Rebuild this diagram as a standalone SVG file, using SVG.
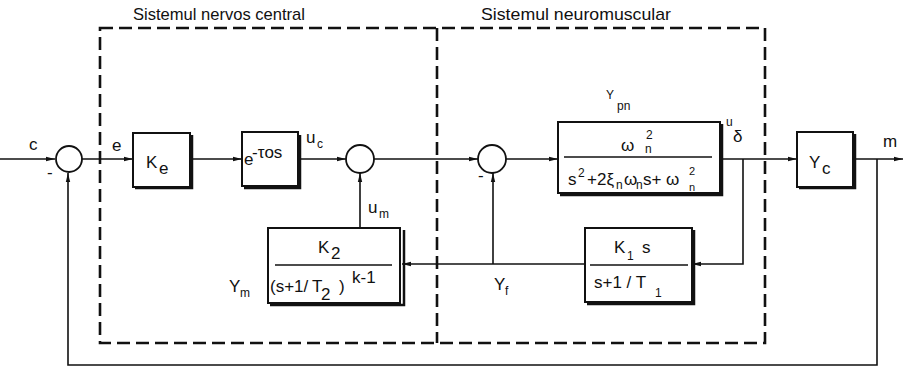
<svg xmlns="http://www.w3.org/2000/svg" width="905" height="372" viewBox="0 0 905 372">
<style>
text{font-family:"Liberation Sans",Arial,sans-serif;fill:#111}
.t{font-size:17px}
.s{font-size:12px}
.ln{stroke:#111;stroke-width:1.6;fill:none}
.bx{stroke:#111;stroke-width:2;fill:#fff}
.sh{stroke:#111;stroke-width:2.5;fill:none}
.ds{stroke:#111;stroke-width:2.6;fill:none;stroke-dasharray:13 6}
.fr{stroke:#111;stroke-width:1.3}
.cr{stroke:#111;stroke-width:1.8;fill:#fff}
</style>
<defs>
<marker id="ar" markerWidth="10" markerHeight="6" refX="9" refY="3" orient="auto" markerUnits="userSpaceOnUse">
<path d="M0,0.8 L9,3 L0,5.2 Z" fill="#111"/>
</marker>
</defs>

<g id="frames">
<rect class="ds" x="100" y="28" width="665" height="315"/>
<line class="ds" x1="437" y1="28" x2="437" y2="343"/>
<text x="133" y="20" class="t" textLength="172" lengthAdjust="spacingAndGlyphs">Sistemul nervos central</text>
<text x="481" y="20" class="t" textLength="190" lengthAdjust="spacingAndGlyphs">Sistemul neuromuscular</text>
</g>

<g id="connectors">
<line class="ln" x1="0" y1="159" x2="55" y2="159" marker-end="url(#ar)"/>
<line class="ln" x1="82" y1="159" x2="133" y2="159" marker-end="url(#ar)"/>
<line class="ln" x1="191" y1="159" x2="242" y2="159" marker-end="url(#ar)"/>
<line class="ln" x1="298" y1="159" x2="346" y2="159" marker-end="url(#ar)"/>
<line class="ln" x1="374" y1="159" x2="478" y2="159" marker-end="url(#ar)"/>
<line class="ln" x1="506" y1="159" x2="558" y2="159" marker-end="url(#ar)"/>
<line class="ln" x1="721" y1="159" x2="797" y2="159" marker-end="url(#ar)"/>
<line class="ln" x1="854" y1="159" x2="903" y2="159" marker-end="url(#ar)"/>
<polyline class="ln" points="743,159 743,264 692,264" marker-end="url(#ar)"/>
<line class="ln" x1="585" y1="264" x2="402" y2="264" marker-end="url(#ar)"/>
<line class="ln" x1="493" y1="264" x2="493" y2="173" marker-end="url(#ar)"/>
<line class="ln" x1="360" y1="228" x2="360" y2="173" marker-end="url(#ar)"/>
<polyline class="ln" points="877,159 877,365 68,365 68,173" marker-end="url(#ar)"/>
</g>

<g id="labels">
<text x="29" y="150" class="t">c</text>
<text x="112" y="151" class="t">e</text>
<text x="47" y="178" class="t">-</text>
<text x="306" y="143" class="t">u</text><text x="317" y="148" class="s">c</text>
<text x="368" y="213" class="t">u</text><text x="379" y="218" class="s">m</text>
<text x="478" y="181" class="t">-</text>
<text x="726" y="126" class="s">u</text><text x="733" y="142" class="t">δ</text>
<text x="606" y="99" class="s">Y</text><text x="617" y="110" class="s">pn</text>
<text x="883" y="147" class="t">m</text>
<text x="229" y="292" class="t">Y</text><text x="240" y="297" class="s">m</text>
<text x="494" y="290" class="t">Y</text><text x="505" y="295" class="s">f</text>
</g>

<g id="sum1"><circle class="cr" cx="69" cy="159" r="13"/></g>
<g id="sum2"><circle class="cr" cx="360" cy="159" r="14"/></g>
<g id="sum3"><circle class="cr" cx="492" cy="159" r="14"/></g>

<g id="Ke">
<polyline class="sh" points="192,135 192,188 135,188"/>
<rect class="bx" x="133" y="133" width="57" height="54"/>
<text x="146" y="168" class="t" font-size="19">K</text><text x="159" y="174" class="t">e</text>
</g>

<g id="delay">
<polyline class="sh" points="300,135 300,188 244,188"/>
<rect class="bx" x="242" y="132" width="56" height="54"/>
<text x="244" y="165" class="t">e</text><text x="252" y="158" class="t" font-size="14">-τos</text>
</g>

<g id="Ypn">
<polyline class="sh" points="722,124 722,195 560,195"/>
<rect class="bx" x="558" y="122" width="162" height="71"/>
<line class="fr" x1="564" y1="157" x2="712" y2="157"/>
<text x="621" y="151" class="t">ω</text><text x="646" y="139" class="s">2</text><text x="645" y="153" class="s">n</text>
<text x="568" y="185" class="t">s</text><text x="578" y="177" class="s">2</text>
<text x="587" y="185" class="t">+2ξ</text><text x="616" y="189" class="s">n</text>
<text x="624" y="185" class="t">ω</text><text x="636" y="189" class="s">n</text>
<text x="643" y="185" class="t">s+</text><text x="666" y="185" class="t">ω</text><text x="689" y="175" font-size="11">2</text><text x="689" y="191" font-size="11">n</text>
</g>

<g id="Yc">
<polyline class="sh" points="855,134 855,188 799,188"/>
<rect class="bx" x="797" y="132" width="56" height="55"/>
<text x="809" y="168" class="t" font-size="19">Y</text><text x="822" y="174" class="t">c</text>
</g>

<g id="K1">
<polyline class="sh" points="694,230 694,304 587,304"/>
<rect class="bx" x="585" y="228" width="107" height="74"/>
<line class="fr" x1="590" y1="265" x2="688" y2="265"/>
<text x="614" y="253" class="t" font-size="18">K</text><text x="627" y="260" class="s">1</text><text x="642" y="253" class="t">s</text>
<text x="594" y="288" class="t">s+1 / T</text><text x="655" y="297" class="s">1</text>
</g>

<g id="K2">
<polyline class="sh" points="404,230 404,305 270,305"/>
<rect class="bx" x="268" y="228" width="132" height="75"/>
<line class="fr" x1="275" y1="265" x2="392" y2="265"/>
<text x="318" y="253" class="t" font-size="18">K</text><text x="331" y="259" class="t" font-size="15">2</text>
<text x="270" y="292" class="t">(s+1/</text><text x="312" y="292" class="t">T</text><text x="321" y="300" class="t" font-size="15">2</text><text x="339" y="292" class="t">)</text><text x="352" y="283" class="t">k-1</text>
</g>
</svg>
